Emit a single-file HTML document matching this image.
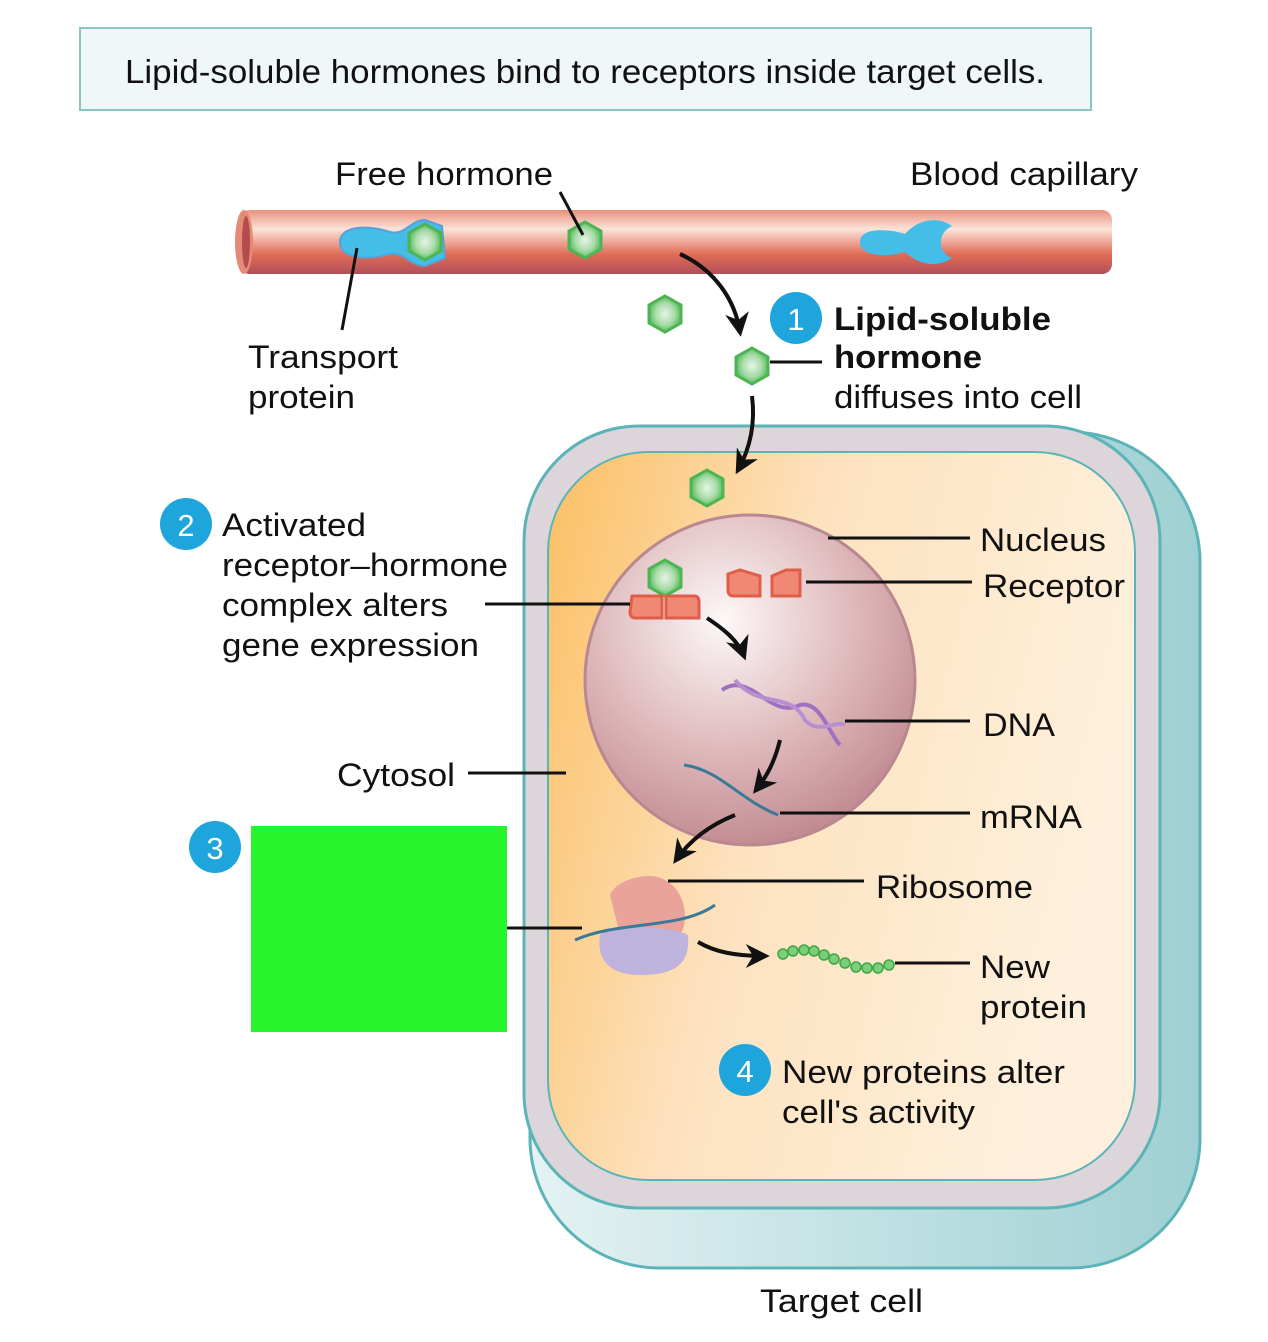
<!DOCTYPE html>
<html><head><meta charset="utf-8"><style>
html,body{margin:0;padding:0;background:#fff}
svg{display:block}
text{font-family:"Liberation Sans",sans-serif;fill:#111}
</style></head><body>
<svg width="1268" height="1342" viewBox="0 0 1268 1342" xmlns="http://www.w3.org/2000/svg">
<defs>
<linearGradient id="cap" x1="0" y1="0" x2="0" y2="1">
<stop offset="0" stop-color="#e8917c"/><stop offset="0.3" stop-color="#fbe3d9"/><stop offset="0.7" stop-color="#e06a55"/><stop offset="1" stop-color="#b0505a"/></linearGradient>
<linearGradient id="cyt" x1="0" y1="0" x2="1" y2="0.3">
<stop offset="0" stop-color="#fbbf63"/><stop offset="0.45" stop-color="#fde2bf"/><stop offset="1" stop-color="#fef0dc"/></linearGradient>
<radialGradient id="nuc" cx="0.42" cy="0.32" r="0.7">
<stop offset="0" stop-color="#fdf8f8"/><stop offset="0.6" stop-color="#dcb5b8"/><stop offset="1" stop-color="#c08a90"/></radialGradient>
<radialGradient id="hex" cx="0.5" cy="0.5" r="0.5">
<stop offset="0" stop-color="#e6f4e6"/><stop offset="0.6" stop-color="#a9dca9"/><stop offset="1" stop-color="#5cbd62"/></radialGradient>
<linearGradient id="shadow" x1="0" y1="0" x2="1" y2="0">
<stop offset="0" stop-color="#e4f2f3"/><stop offset="1" stop-color="#9fd0d3"/></linearGradient>
<g id="hx"><polygon points="0,-18 16,-9 16,9 0,18 -16,9 -16,-9" fill="url(#hex)" stroke="#4cb552" stroke-width="3"/></g>
<marker id="ah" viewBox="0 0 10 10" refX="8" refY="5" markerWidth="6" markerHeight="6" orient="auto"><path d="M0,0 L10,5 L0,10 L3,5z" fill="#111"/></marker>
</defs>
<rect x="80" y="28" width="1011" height="82" fill="#f0f7f8" stroke="#8cc3c5" stroke-width="2"/>
<text x="125" y="83" font-size="33" textLength="920" lengthAdjust="spacingAndGlyphs">Lipid-soluble hormones bind to receptors inside target cells.</text>

<rect x="240" y="210" width="872" height="64" rx="10" fill="url(#cap)"/>
<ellipse cx="244" cy="242" rx="9" ry="32" fill="#e58a78"/>
<ellipse cx="246" cy="242" rx="4" ry="26" fill="#b34c4c"/>
<path d="M340,242 C340,225 370,225 390,232 C405,236 410,220 425,220 L442,226 L445,258 L425,266 C410,266 405,252 390,254 C370,260 340,260 340,242z" fill="#44bde8" stroke="#5aa0d8" stroke-width="2"/>
<use href="#hx" x="425" y="242"/>
<path d="M860,242 C860,228 885,228 905,234 C915,222 935,214 952,226 C938,232 936,252 952,258 C935,270 915,262 905,252 C885,258 860,256 860,242z" fill="#44bde8"/>
<use href="#hx" x="585" y="240"/>
<line x1="357" y1="248" x2="342" y2="330" stroke="#111" stroke-width="3"/>
<line x1="560" y1="192" x2="583" y2="235" stroke="#111" stroke-width="3"/>
<g font-size="32" lengthAdjust="spacingAndGlyphs">
<text x="335" y="185" textLength="218" lengthAdjust="spacingAndGlyphs">Free hormone</text>
<text x="910" y="185" textLength="228" lengthAdjust="spacingAndGlyphs">Blood capillary</text>
<text x="248" y="368" textLength="150" lengthAdjust="spacingAndGlyphs">Transport</text>
<text x="248" y="408" textLength="107" lengthAdjust="spacingAndGlyphs">protein</text>
</g>

<use href="#hx" x="665" y="314"/>
<use href="#hx" x="752" y="366"/>
<path d="M680,254 C715,270 735,300 740,332" fill="none" stroke="#111" stroke-width="4" marker-end="url(#ah)"/>
<line x1="770" y1="362" x2="822" y2="362" stroke="#111" stroke-width="3"/>
<circle cx="796" cy="318" r="26" fill="#1ea5dc"/><text x="796" y="330" font-size="31" style="fill:#fff" text-anchor="middle">1</text>
<text x="834" y="330" font-size="32" font-weight="bold" textLength="217" lengthAdjust="spacingAndGlyphs">Lipid-soluble</text>
<text x="834" y="368" font-size="32" font-weight="bold" textLength="148" lengthAdjust="spacingAndGlyphs">hormone</text>
<text x="834" y="408" font-size="32" textLength="248" lengthAdjust="spacingAndGlyphs">diffuses into cell</text>

<rect x="530" y="432" width="670" height="836" rx="130" fill="url(#shadow)" stroke="#5cb4b8" stroke-width="3"/>
<rect x="524" y="426" width="636" height="782" rx="115" fill="#dcd6da" stroke="#5cb4b8" stroke-width="3"/>
<rect x="548" y="452" width="587" height="728" rx="100" fill="url(#cyt)" stroke="#5cb4b8" stroke-width="2"/>
<path d="M752,396 C755,420 752,445 738,470" fill="none" stroke="#111" stroke-width="4" marker-end="url(#ah)"/>
<use href="#hx" x="707" y="488"/>
<circle cx="750" cy="680" r="165" fill="url(#nuc)" stroke="#b98790" stroke-width="3"/>
<use href="#hx" x="665" y="578"/>
<path d="M632,596 h30 v22 h-26 q-6,0 -6,-6z M666,596 h28 q5,0 5,6 v16 h-33z" fill="#f08874" stroke="#e05d48" stroke-width="3"/>
<path d="M728,574 l12,-4 l20,6 v20 h-26 q-6,0 -6,-6z M772,576 l14,-6 h14 v26 h-28z" fill="#f08874" stroke="#e05d48" stroke-width="3"/>
<path d="M707,618 C722,628 738,640 744,656" fill="none" stroke="#111" stroke-width="4" marker-end="url(#ah)"/>
<path d="M722,690 C750,670 770,720 800,705 C820,700 830,735 840,745" fill="none" stroke="#a070c0" stroke-width="4"/>
<path d="M735,680 C760,710 790,690 805,720 C818,735 835,720 845,725" fill="none" stroke="#b890d0" stroke-width="4"/>
<path d="M780,740 C775,760 768,775 756,790" fill="none" stroke="#111" stroke-width="4" marker-end="url(#ah)"/>
<path d="M684,765 C720,770 740,800 778,815" fill="none" stroke="#3a7a98" stroke-width="3"/>
<path d="M735,815 C710,825 690,840 676,860" fill="none" stroke="#111" stroke-width="4" marker-end="url(#ah)"/>
<path d="M610,895 C615,880 650,870 665,880 C685,890 690,920 680,935 L620,935z" fill="#eaa39a"/>
<path d="M600,935 C610,925 670,925 688,935 C690,960 680,975 640,975 C610,975 596,960 600,935z" fill="#bdb3dc"/>
<path d="M575,940 C620,920 680,930 715,905" fill="none" stroke="#3a7a98" stroke-width="3"/>
<path d="M698,942 C715,952 735,956 765,956" fill="none" stroke="#111" stroke-width="4" marker-end="url(#ah)"/>
<g fill="#7ccf7a" stroke="#3ea645" stroke-width="1.5">
<circle cx="783" cy="954" r="5"/><circle cx="793" cy="951" r="5"/><circle cx="804" cy="950" r="5"/><circle cx="814" cy="951" r="5"/><circle cx="824" cy="955" r="5"/><circle cx="834" cy="959" r="5"/><circle cx="845" cy="963" r="5"/><circle cx="856" cy="967" r="5"/><circle cx="867" cy="968" r="5"/><circle cx="878" cy="968" r="5"/><circle cx="889" cy="965" r="5"/></g>

<g stroke="#111" stroke-width="3">
<line x1="828" y1="538" x2="970" y2="538"/>
<line x1="806" y1="582" x2="972" y2="582"/>
<line x1="485" y1="604" x2="630" y2="604"/>
<line x1="845" y1="721" x2="970" y2="721"/>
<line x1="468" y1="773" x2="566" y2="773"/>
<line x1="780" y1="813" x2="970" y2="813"/>
<line x1="668" y1="881" x2="864" y2="881"/>
<line x1="506" y1="928" x2="582" y2="928"/>
<line x1="895" y1="963" x2="970" y2="963"/>
</g>
<g font-size="32">
<text x="980" y="551" textLength="126" lengthAdjust="spacingAndGlyphs">Nucleus</text>
<text x="983" y="597" textLength="142" lengthAdjust="spacingAndGlyphs">Receptor</text>
<text x="983" y="736" textLength="72" lengthAdjust="spacingAndGlyphs">DNA</text>
<text x="980" y="828" textLength="102" lengthAdjust="spacingAndGlyphs">mRNA</text>
<text x="876" y="898" textLength="157" lengthAdjust="spacingAndGlyphs">Ribosome</text>
<text x="980" y="978" textLength="70" lengthAdjust="spacingAndGlyphs">New</text>
<text x="980" y="1018" textLength="107" lengthAdjust="spacingAndGlyphs">protein</text>
<text x="337" y="786" textLength="118" lengthAdjust="spacingAndGlyphs">Cytosol</text>
<text x="222" y="536" textLength="144" lengthAdjust="spacingAndGlyphs">Activated</text>
<text x="222" y="576" textLength="286" lengthAdjust="spacingAndGlyphs">receptor–hormone</text>
<text x="222" y="616" textLength="226" lengthAdjust="spacingAndGlyphs">complex alters</text>
<text x="222" y="656" textLength="257" lengthAdjust="spacingAndGlyphs">gene expression</text>
<text x="782" y="1083" textLength="283" lengthAdjust="spacingAndGlyphs">New proteins alter</text>
<text x="782" y="1123" textLength="193" lengthAdjust="spacingAndGlyphs">cell's activity</text>
<text x="760" y="1312" textLength="163" lengthAdjust="spacingAndGlyphs">Target cell</text>
</g>
<circle cx="186" cy="524" r="26" fill="#1ea5dc"/><text x="186" y="536" font-size="31" style="fill:#fff" text-anchor="middle">2</text>
<circle cx="215" cy="847" r="26" fill="#1ea5dc"/><text x="215" y="859" font-size="31" style="fill:#fff" text-anchor="middle">3</text>
<rect x="251" y="826" width="256" height="206" fill="#27f52c"/>
<circle cx="745" cy="1070" r="26" fill="#1ea5dc"/><text x="745" y="1082" font-size="31" style="fill:#fff" text-anchor="middle">4</text>
</svg>
</body></html>
